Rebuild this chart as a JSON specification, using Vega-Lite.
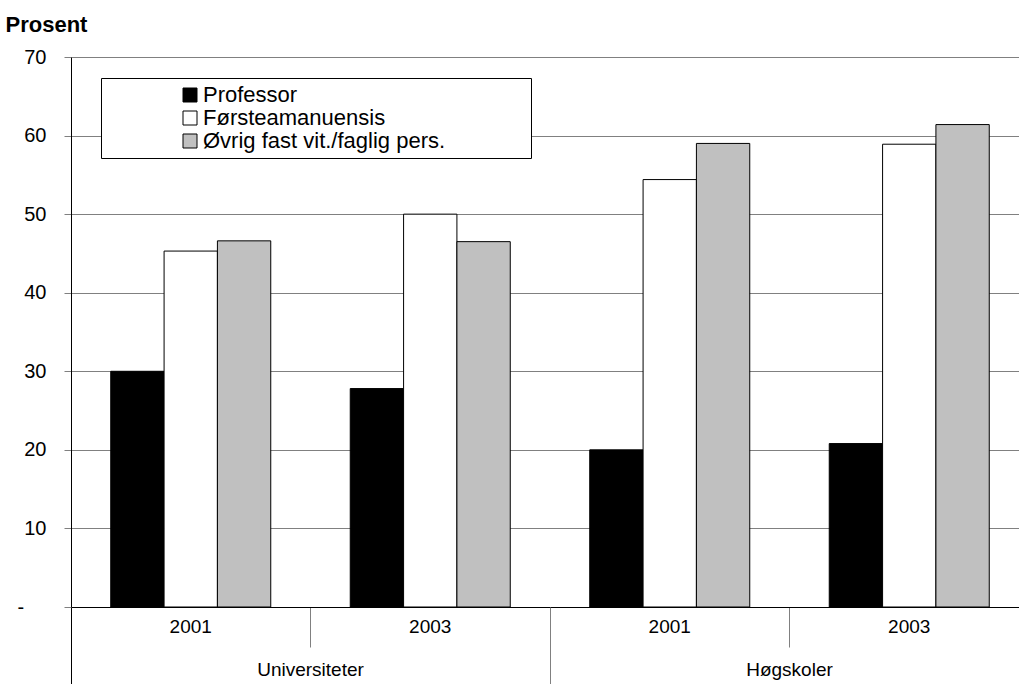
{
  "$schema": "https://vega.github.io/schema/vega-lite/v6.json",
  "width": 948,
  "height": 550,
  "autosize": {"type": "none"},
  "padding": {"left": 71, "top": 57, "right": 0, "bottom": 77},
  "background": "white",
  "config": {"view": {"stroke": null}, "font": "Liberation Sans"},
  "data": {
    "values": [
      {"group": "Universiteter", "cat": "Universiteter 2001", "series": "Professor", "value": 30.0},
      {"group": "Universiteter", "cat": "Universiteter 2001", "series": "Førsteamanuensis", "value": 45.3},
      {"group": "Universiteter", "cat": "Universiteter 2001", "series": "Øvrig fast vit./faglig pers.", "value": 46.6},
      {"group": "Universiteter", "cat": "Universiteter 2003", "series": "Professor", "value": 27.8},
      {"group": "Universiteter", "cat": "Universiteter 2003", "series": "Førsteamanuensis", "value": 50.0},
      {"group": "Universiteter", "cat": "Universiteter 2003", "series": "Øvrig fast vit./faglig pers.", "value": 46.5},
      {"group": "Høgskoler", "cat": "Høgskoler 2001", "series": "Professor", "value": 20.0},
      {"group": "Høgskoler", "cat": "Høgskoler 2001", "series": "Førsteamanuensis", "value": 54.4},
      {"group": "Høgskoler", "cat": "Høgskoler 2001", "series": "Øvrig fast vit./faglig pers.", "value": 59.0},
      {"group": "Høgskoler", "cat": "Høgskoler 2003", "series": "Professor", "value": 20.8},
      {"group": "Høgskoler", "cat": "Høgskoler 2003", "series": "Førsteamanuensis", "value": 58.9},
      {"group": "Høgskoler", "cat": "Høgskoler 2003", "series": "Øvrig fast vit./faglig pers.", "value": 61.4}
    ]
  },
  "layer": [
    {
      "mark": {"type": "bar", "stroke": "black", "strokeWidth": 1},
      "encoding": {
        "x": {
          "field": "cat",
          "type": "nominal",
          "scale": {
            "type": "band",
            "domain": ["Universiteter 2001", "Universiteter 2003", "Høgskoler 2001", "Høgskoler 2003"],
            "range": [0, 958],
            "paddingInner": 0,
            "paddingOuter": 0
          },
          "axis": {
            "orient": "bottom",
            "title": null,
            "labelExpr": "slice(datum.value, -4)",
            "bandPosition": 0,
            "tickSize": 40,
            "tickColor": "#808080",
            "domainColor": "black",
            "labelFontSize": 19,
            "labelPadding": -30,
            "labelColor": "black",
            "labelAngle": 0,
            "grid": false
          }
        },
        "xOffset": {
          "field": "series",
          "type": "nominal",
          "scale": {
            "domain": ["Professor", "Førsteamanuensis", "Øvrig fast vit./faglig pers."],
            "paddingOuter": 0.745,
            "paddingInner": 0
          }
        },
        "y": {
          "field": "value",
          "type": "quantitative",
          "scale": {"domain": [0, 70], "nice": false},
          "axis": {
            "title": "Prosent",
            "values": [0, 10, 20, 30, 40, 50, 60, 70],
            "labelExpr": "datum.value == 0 ? '-\u00a0\u00a0\u00a0\u00a0\u200b' : datum.label",
            "grid": true,
            "gridColor": "#808080",
            "domainColor": "black",
            "tickColor": "#808080",
            "tickSize": 7,
            "labelFontSize": 20,
            "labelPadding": 18,
            "labelColor": "black",
            "titleAngle": 0,
            "titleAlign": "left",
            "titleBaseline": "alphabetic",
            "titleX": -66,
            "titleY": -26,
            "titleFontSize": 22,
            "titleFontWeight": "bold",
            "titleColor": "black"
          }
        },
        "fill": {
          "field": "series",
          "type": "nominal",
          "scale": {
            "domain": ["Professor", "Førsteamanuensis", "Øvrig fast vit./faglig pers."],
            "range": ["#000000", "#ffffff", "#c0c0c0"]
          },
          "legend": {
            "title": null,
            "orient": "none",
            "legendX": 30,
            "legendY": 21,
            "direction": "vertical",
            "padding": 6,
            "strokeColor": "black",
            "fillColor": "white",
            "symbolType": "square",
            "symbolSize": 196,
            "symbolStrokeColor": "black",
            "symbolStrokeWidth": 1,
            "symbolOffset": 72,
            "labelOffset": 2,
            "labelFontSize": 22,
            "labelColor": "black",
            "labelLimit": 800,
            "rowPadding": 1,
            "labelExpr": "datum.label + '\u00a0\u00a0\u00a0\u00a0\u00a0\u00a0\u00a0\u00a0\u00a0\u00a0\u00a0\u00a0\u00a0\u200b'"
          }
        }
      }
    },
    {
      "mark": {"type": "text", "opacity": 0},
      "encoding": {
        "x": {
          "field": "group",
          "type": "nominal",
          "scale": {
            "type": "band",
            "domain": ["Universiteter", "Høgskoler"],
            "range": [0, 958],
            "paddingInner": 0,
            "paddingOuter": 0
          },
          "axis": {
            "orient": "bottom",
            "title": null,
            "bandPosition": 0,
            "tickSize": 77,
            "tickColor": {"condition": {"test": "datum.index == 0", "value": "black"}, "value": "#808080"},
            "domain": false,
            "labelFontSize": 19,
            "labelPadding": -24,
            "labelColor": "black",
            "labelAngle": 0,
            "grid": false
          }
        },
        "text": {"value": ""}
      }
    }
  ],
  "resolve": {"scale": {"x": "independent"}, "axis": {"x": "independent"}}
}
